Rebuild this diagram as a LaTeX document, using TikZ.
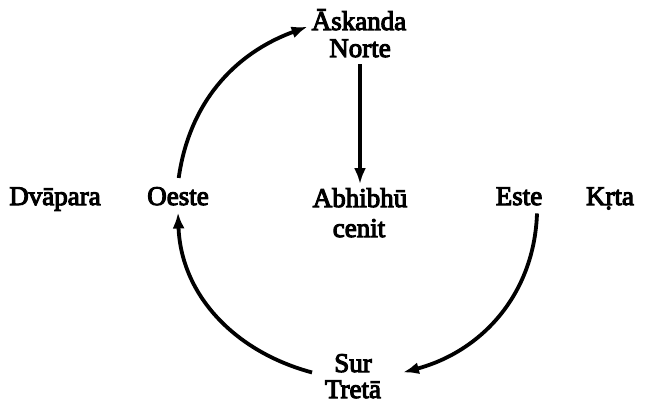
\documentclass[tikz,border=0pt]{standalone}
\usepackage{fontspec}
\newfontfamily\lblfont{Liberation Serif}[FakeBold=4]
\usetikzlibrary{arrows.meta}
\begin{document}
\begin{tikzpicture}[x=1pt,y=1pt,
  lbl/.style={anchor=base,inner sep=4pt,font=\lblfont\fontsize{27}{30}\selectfont},
  arr/.style={line width=3.8pt,-{Latex[length=16pt,width=12pt]}}]
\useasboundingbox (0,0) rectangle (664,405);
% names of the quarters and the ages
\node[lbl] (askanda) at (359,375) {Āskanda};
\node[lbl] (norte)   at (360,348) {Norte};
\node[lbl] (abhibhu) at (360,198) {Abhibhū};
\node[lbl] (cenit)   at (359,168) {cenit};
\node[lbl] (dvapara) at (55,200)  {Dvāpara};
\node[lbl] (oeste)   at (178,200) {Oeste};
\node[lbl] (este)    at (519,200) {Este};
\node[lbl] (krta)    at (610,200) {Kṛta};
\node[lbl] (sur)     at (353,33)  {Sur};
\node[lbl] (treta)   at (353,7)   {Tretā};
% descent from the north to the zenith
\draw[arr,shorten <=3pt] (norte.south) -- (abhibhu.north);
% the cycle: east -> south -> west -> north
\draw[arr,shorten <=5pt] (oeste.north) to[out=82,in=200] ([yshift=-7pt]askanda.west);
\draw[arr] ([xshift=-18pt,yshift=4pt]sur.south west) to[out=165,in=-88] ([yshift=-3pt]oeste.south);
\draw[arr] ([xshift=18pt,yshift=-4pt]este.south) to[out=-92,in=15] ([xshift=27pt,yshift=4pt]sur.south east);
\end{tikzpicture}
\end{document}
